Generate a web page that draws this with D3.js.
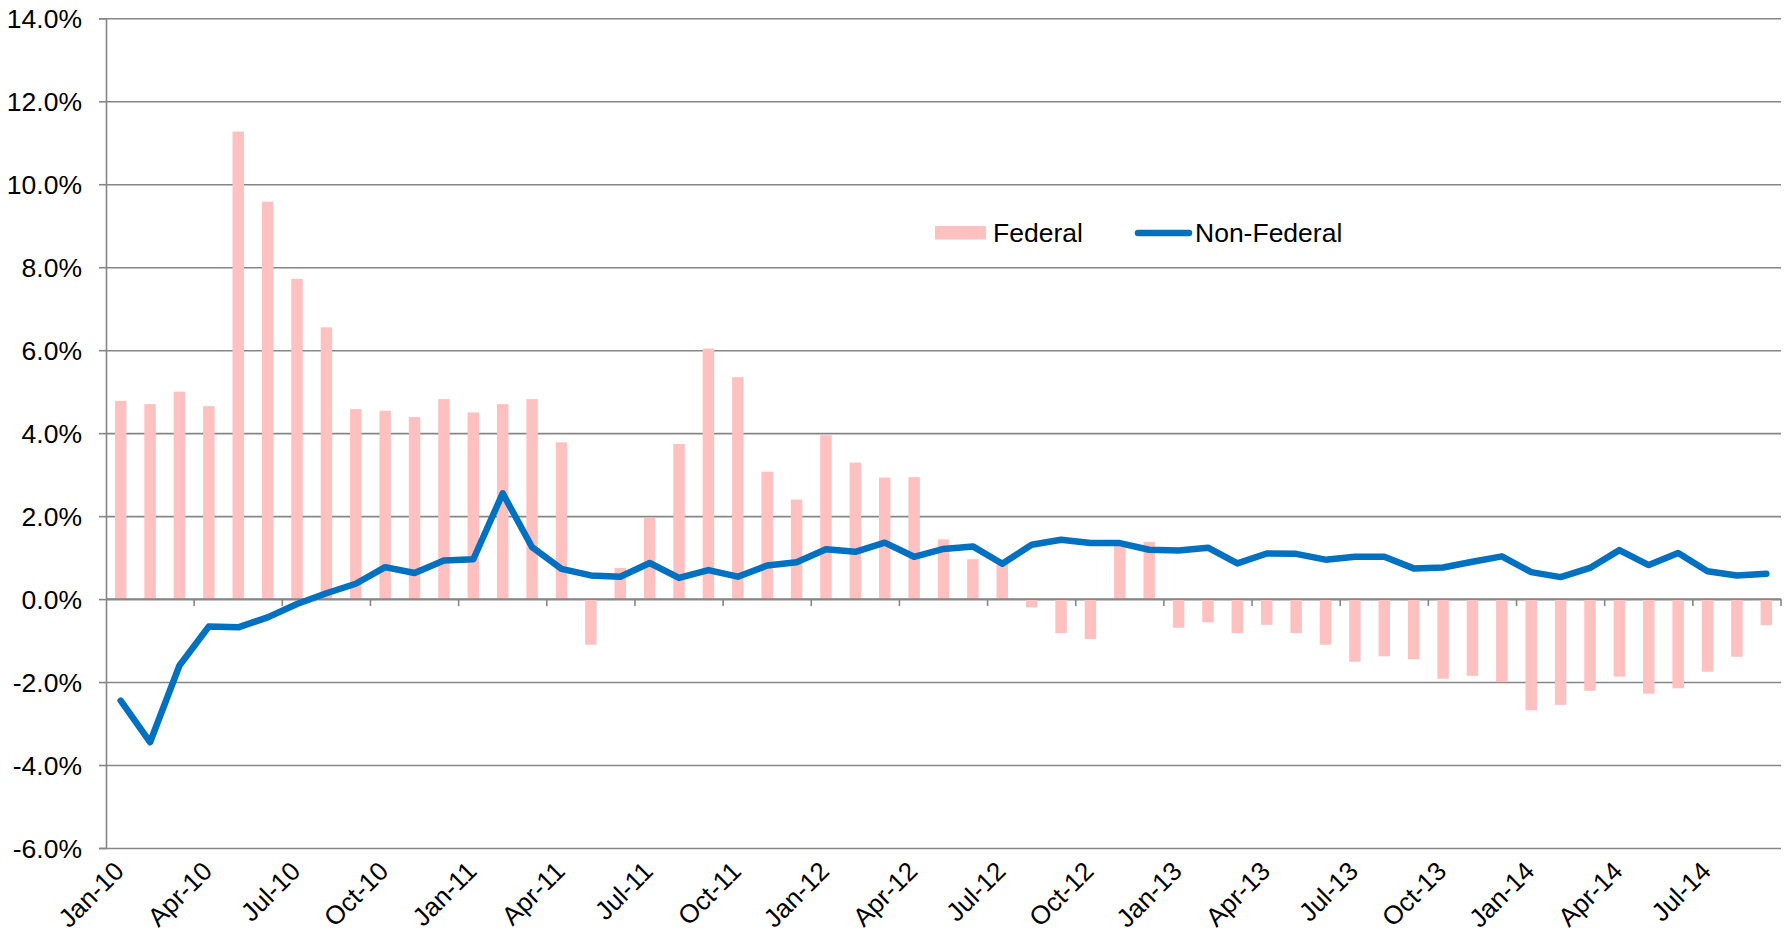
<!DOCTYPE html>
<html>
<head>
<meta charset="utf-8">
<script src="https://cdn.jsdelivr.net/npm/d3@7"></script>
<style>
  body { margin: 0; background: #fff; }
  text { font-family: "Liberation Sans", Arial, sans-serif; fill: #000; }
</style>
</head>
<body>
<div id="chart"></div>
<script>
// month labels, Jan-10 .. Sep-14
var months = [];
["10", "11", "12", "13", "14"].forEach(function (yr) {
  ["Jan","Feb","Mar","Apr","May","Jun","Jul","Aug","Sep","Oct","Nov","Dec"].forEach(function (m) {
    months.push(m + "-" + yr);
  });
});
months = months.slice(0, 57);

var federal = [
  4.78, 4.70, 5.00, 4.65, 11.27, 9.58, 7.72, 6.55, 4.58, 4.54, 4.39, 4.82,
  4.50, 4.70, 4.82, 3.78, -1.10, 0.75, 1.96, 3.74, 6.04, 5.35, 3.07, 2.40,
  3.95, 3.29, 2.93, 2.94, 1.44, 0.96, 0.85, -0.20, -0.82, -0.96, 1.30, 1.38,
  -0.69, -0.56, -0.82, -0.62, -0.82, -1.10, -1.51, -1.38, -1.45, -1.92, -1.85, -2.00,
  -2.68, -2.55, -2.21, -1.87, -2.28, -2.15, -1.75, -1.39, -0.63
];

var nonFederal = [
  -2.45, -3.45, -1.60, -0.66, -0.68, -0.44, -0.12, 0.14, 0.37, 0.77, 0.63, 0.93,
  0.96, 2.55, 1.25, 0.73, 0.57, 0.54, 0.87, 0.51, 0.70, 0.54, 0.81, 0.89,
  1.20, 1.14, 1.36, 1.02, 1.21, 1.27, 0.85, 1.31, 1.43, 1.35, 1.35, 1.19,
  1.17, 1.24, 0.86, 1.10, 1.09, 0.95, 1.02, 1.02, 0.74, 0.76, 0.90, 1.03,
  0.65, 0.53, 0.75, 1.18, 0.82, 1.11, 0.67, 0.57, 0.61
];

var yTicks = [-6, -4, -2, 0, 2, 4, 6, 8, 10, 12, 14];
var seriesNames = ["Federal", "Non-Federal"];

var W = 1790, H = 940;
var mLeft = 106, mRight = 1781, mTop = 18.3, mBottom = 848;
var fontSize = 26.5;
var gridColor = "#868686", barColor = "#ffc0c0", lineColor = "#0070c0";

var svg = d3.select("#chart").append("svg").attr("width", W).attr("height", H);

var x = d3.scaleBand().domain(months).range([mLeft, mRight])
  .paddingInner(0.61).paddingOuter(0.305);
var y = d3.scaleLinear().domain([-6, 14]).range([mBottom, mTop]);

// horizontal gridlines + y labels
var yAxis = svg.append("g")
  .attr("transform", "translate(" + mLeft + ",0)")
  .call(d3.axisLeft(y).tickValues(yTicks).tickSize(7)
    .tickFormat(function (d) { return d.toFixed(1) + "%"; }));
yAxis.select(".domain").attr("stroke", gridColor).attr("stroke-width", 1.6);
yAxis.selectAll(".tick line").attr("stroke", gridColor).attr("stroke-width", 1.6);
yAxis.selectAll(".tick text").attr("x", -24).attr("font-size", fontSize).attr("dy", "0.35em");
yAxis.selectAll(".tick").append("line")
  .attr("x1", 0).attr("x2", mRight - mLeft)
  .attr("stroke", gridColor).attr("stroke-width", 1.6);

// bars
svg.append("g").selectAll("rect").data(federal).enter().append("rect")
  .attr("x", function (d, i) { return x(months[i]); })
  .attr("width", x.bandwidth())
  .attr("y", function (d) { return y(Math.max(0, d)); })
  .attr("height", function (d) { return Math.abs(y(d) - y(0)); })
  .attr("fill", barColor);

// x axis at zero with ticks every three months
var xAxis = svg.append("g")
  .attr("transform", "translate(0," + y(0) + ")");
xAxis.append("line").attr("x1", mLeft).attr("x2", mRight)
  .attr("stroke", gridColor).attr("stroke-width", 1.6);
var tickMonths = months.filter(function (d, i) { return i % 3 === 0; });
var edge = function (d) { return d === "__end" ? mRight : x(d) - x.step() * x.paddingInner() / 2; };
xAxis.selectAll(".xt").data(tickMonths.slice(1).concat(["__end"])).enter().append("line")
  .attr("x1", edge).attr("x2", edge)
  .attr("y1", 0).attr("y2", 7)
  .attr("stroke", gridColor).attr("stroke-width", 1.6);

// x labels, rotated
svg.append("g").selectAll("text").data(tickMonths).enter().append("text")
  .attr("transform", function (d) {
    return "translate(" + (x(d) + x.bandwidth() / 2 - 8) + "," + (mBottom + 12) + ") rotate(-45)";
  })
  .attr("text-anchor", "end")
  .attr("dy", "0.7em")
  .attr("font-size", 26)
  .text(function (d) { return d; });

// line
var line = d3.line()
  .x(function (d, i) { return x(months[i]) + x.bandwidth() / 2; })
  .y(function (d) { return y(d); });
svg.append("path").datum(nonFederal)
  .attr("d", line)
  .attr("fill", "none")
  .attr("stroke", lineColor)
  .attr("stroke-width", 6.5)
  .attr("stroke-linejoin", "round")
  .attr("stroke-linecap", "round");

// legend
var lg = svg.append("g");
lg.append("rect").attr("x", 935).attr("y", 226).attr("width", 51).attr("height", 13.5).attr("fill", barColor);
lg.append("text").attr("x", 993).attr("y", 242).attr("font-size", fontSize).text(seriesNames[0]);
lg.append("line").attr("x1", 1138).attr("x2", 1189).attr("y1", 233).attr("y2", 233)
  .attr("stroke", lineColor).attr("stroke-width", 6.5).attr("stroke-linecap", "round");
lg.append("text").attr("x", 1195).attr("y", 242).attr("font-size", fontSize).text(seriesNames[1]);
</script>
</body>
</html>
